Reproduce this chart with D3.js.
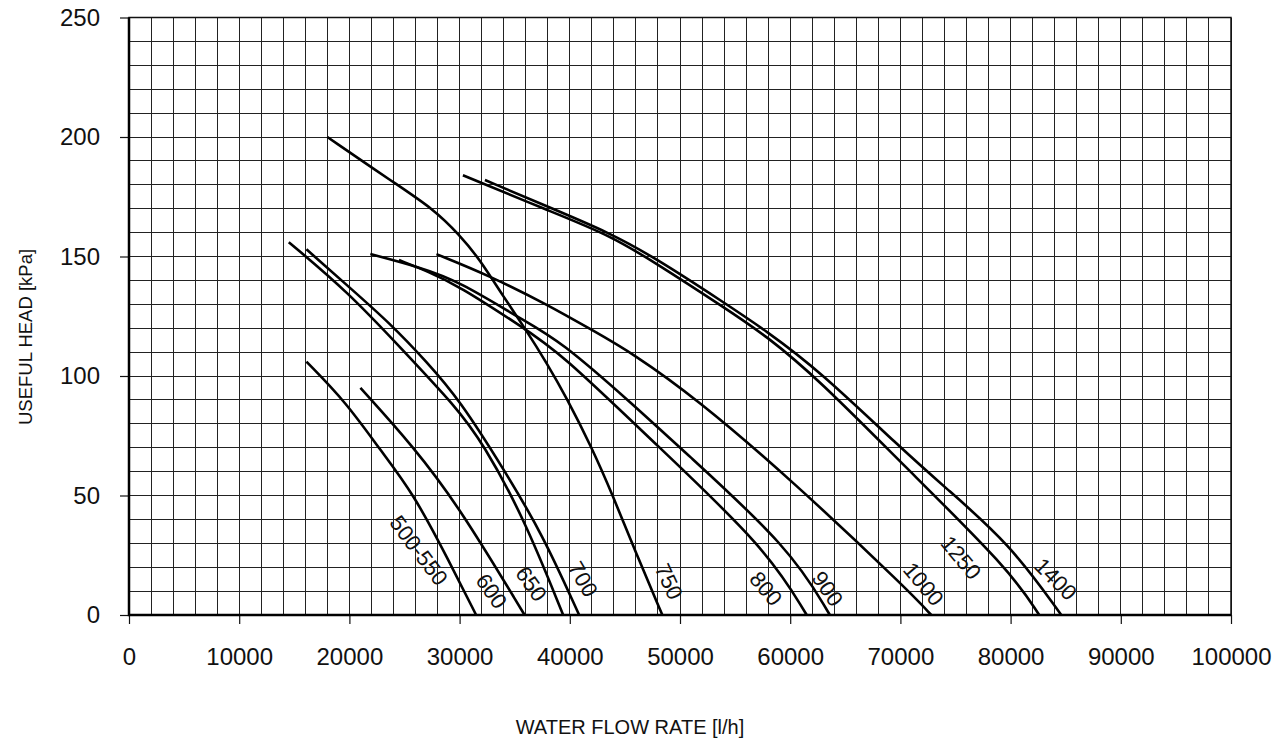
<!DOCTYPE html>
<html>
<head>
<meta charset="utf-8">
<script src="https://cdn.jsdelivr.net/npm/d3@7"></script>
<style>
  body { margin: 0; background: #fff; }
  #chart { width: 1274px; height: 744px; }
  text { font-family: "Liberation Sans", Arial, sans-serif; fill: #111; }
</style>
</head>
<body>
<div id="chart"></div>
<script>

// pump curves: [water flow l/h, useful head kPa]
const curve500_550 = [[16100,106],[19700,89],[22800,69],[25800,51],[29100,22],[31500,0]];
const curve600  = [[21000,95],[25800,70.5],[30000,45],[35900,0]];
const curve650  = [[14500,156],[19900,135],[24600,112],[29700,87],[32100,72],[35800,41],[39400,0]];
const curve700  = [[16100,153],[19900,137.5],[23700,122],[27000,106],[30000,90],[34000,61],[37500,34],[40850,0]];
const curve750  = [[18000,200],[24000,181],[27600,170],[30000,159],[31800,149],[34000,133],[36000,119.5],[37900,105.5],[39700,91],[42000,70],[43900,50],[46000,26],[48400,0]];
const curve800  = [[24500,148.5],[27000,144],[30000,137.5],[35500,121],[39100,110],[47900,71],[57800,28],[61500,0]];
const curve900  = [[21900,151],[26400,145.5],[30000,139.5],[35500,124],[39100,115],[46000,87],[50000,70],[60000,28],[63600,0]];
const curve1000 = [[27900,151],[32700,142],[37900,130],[42100,119],[45700,109.5],[51500,90.5],[60000,57],[70800,10],[72800,0]];
const curve1250 = [[30300,184],[37900,169.5],[43600,159],[47900,147],[53900,129],[57800,117],[62700,98],[70000,64],[79900,19],[82600,0]];
const curve1400 = [[32300,182],[37900,171],[43600,160],[47900,149],[53900,131],[57800,119],[62700,102],[70000,70],[73900,54],[79900,30],[84600,0]];

const curveNames = ["500-550","600","650","700","750","800","900","1000","1250","1400"];
const curveData = [curve500_550, curve600, curve650, curve700, curve750, curve800, curve900, curve1000, curve1250, curve1400];

// where each curve name sits (flow, head)
const labelFlow = [26300, 32900, 36500, 41200, 49000, 57800, 63400, 72100, 75500, 84100];
const labelHead = [27, 10, 13, 15, 14, 11, 11, 13, 24, 15];
const labelAngle = [53, 55, 55, 60, 65, 50, 55, 50, 50, 45];

const xTicks = d3.range(0, 100001, 10000);
const yTicks = d3.range(0, 251, 50);
const xGrid = d3.range(0, 100001, 2000);
const yGrid = d3.range(0, 251, 10);

const width = 1274, height = 744;
const svg = d3.select("#chart")
    .append("svg")
    .attr("width", width)
    .attr("height", height);

const x = d3.scaleLinear().domain([0, 100000]).range([129, 1231]);
const y = d3.scaleLinear().domain([0, 250]).range([615, 17.5]);

// grid
svg.append("g")
    .selectAll("line")
    .data(xGrid)
    .enter()
    .append("line")
    .attr("x1", d => x(d)).attr("x2", d => x(d))
    .attr("y1", y(0)).attr("y2", y(250))
    .attr("stroke", "#222")
    .attr("stroke-width", 1)
    .attr("shape-rendering", "crispEdges");

svg.append("g")
    .selectAll("line")
    .data(yGrid)
    .enter()
    .append("line")
    .attr("x1", x(0)).attr("x2", x(100000))
    .attr("y1", d => y(d)).attr("y2", d => y(d))
    .attr("stroke", "#222")
    .attr("stroke-width", 1)
    .attr("shape-rendering", "crispEdges");

// axes
const xAxis = svg.append("g")
    .attr("transform", "translate(0," + y(0) + ")")
    .call(d3.axisBottom(x).tickValues(xTicks).tickFormat(d3.format("d")).tickSize(9).tickPadding(24));
const yAxis = svg.append("g")
    .attr("transform", "translate(" + x(0) + ",0)")
    .call(d3.axisLeft(y).tickValues(yTicks).tickFormat(d3.format("d")).tickSize(9).tickPadding(20));

[xAxis, yAxis].forEach(function (g) {
    g.select(".domain").remove();
    g.selectAll(".tick line").attr("stroke", "#111").attr("stroke-width", 1.2);
    g.selectAll(".tick text").style("font-size", "24px").attr("fill", "#111");
});

// frame
svg.append("rect")
    .attr("x", x(0)).attr("y", y(250))
    .attr("width", x(100000) - x(0)).attr("height", y(0) - y(250))
    .attr("fill", "none")
    .attr("stroke", "#111")
    .attr("stroke-width", 1.5);
svg.append("path")
    .attr("d", "M" + x(0) + "," + y(250) + "V" + y(0) + "H" + x(100000))
    .attr("fill", "none")
    .attr("stroke", "#000")
    .attr("stroke-width", 2.5);

// curves
const line = d3.line()
    .x(d => x(d[0]))
    .y(d => y(d[1]))
    .curve(d3.curveBasis);

svg.append("g")
    .selectAll("path")
    .data(curveData)
    .enter()
    .append("path")
    .attr("d", line)
    .attr("fill", "none")
    .attr("stroke", "#000")
    .attr("stroke-width", 2.6);

// curve names
svg.append("g")
    .selectAll("text")
    .data(curveNames)
    .enter()
    .append("text")
    .attr("transform", (d, i) => "translate(" + x(labelFlow[i]) + "," + y(labelHead[i]) + ") rotate(" + labelAngle[i] + ")")
    .attr("text-anchor", "middle")
    .attr("dy", "0.35em")
    .style("font-size", "22px")
    .text(d => d);

// axis titles
svg.append("text")
    .attr("x", 630)
    .attr("y", 734)
    .attr("text-anchor", "middle")
    .style("font-size", "20px")
    .text("WATER FLOW RATE [l/h]");

svg.append("text")
    .attr("transform", "translate(32,337) rotate(-90)")
    .attr("text-anchor", "middle")
    .style("font-size", "18.5px")
    .text("USEFUL HEAD [kPa]");

</script>
</body>
</html>
